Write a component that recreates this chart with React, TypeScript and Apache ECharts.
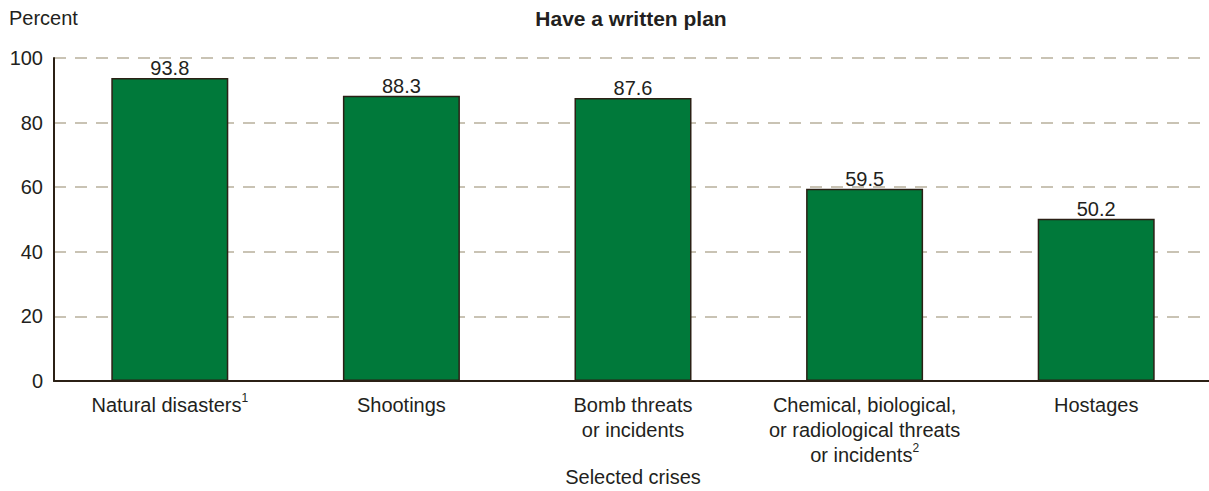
import React, { useEffect, useRef } from "react";
import * as echarts from "echarts";

const categories = [
  "Natural disasters{sup|1}",
  "Shootings",
  "Bomb threats\nor incidents",
  "Chemical, biological,\nor radiological threats\nor incidents{sup|2}",
  "Hostages",
];
const values = [93.8, 88.3, 87.6, 59.5, 50.2];
const yTicks = { min: 0, max: 100, interval: 20 };

export default function App() {
  const ref = useRef<HTMLDivElement>(null);
  useEffect(() => {
    const chart = echarts.init(ref.current!, undefined, { renderer: "svg" });
    const font = "Liberation Sans, Arial, sans-serif";
    const ink = "#231f20";
    chart.setOption({
      animation: false,
      textStyle: { fontFamily: font },
      title: [
        {
          text: "Have a written plan",
          left: 631,
          top: 8,
          padding: 0,
          textAlign: "center",
          textStyle: { fontSize: 21, fontWeight: "bold", color: ink, fontFamily: font },
        },
        {
          text: "Percent",
          left: 9,
          top: 8,
          padding: 0,
          textStyle: { fontSize: 20, fontWeight: "normal", color: ink, fontFamily: font },
        },
      ],
      grid: {
        left: 54,
        top: 58,
        width: 1158,
        height: 323,
        containLabel: false,
        outerBoundsMode: "none",
      },
      xAxis: {
        type: "category",
        data: categories,
        name: "Selected crises",
        nameLocation: "middle",
        nameGap: 86,
        nameMoveOverlap: false,
        nameTextStyle: { fontSize: 20, lineHeight: 20, color: ink, fontFamily: font },
        axisLine: { lineStyle: { color: "#2b2015", width: 2 } },
        axisTick: { show: false },
        axisLabel: {
          interval: 0,
          fontSize: 20,
          color: ink,
          lineHeight: 25,
          margin: 11,
          fontFamily: font,
          rich: {
            sup: { fontSize: 12, verticalAlign: "top", lineHeight: 25, padding: [0, 0, 10, 0], color: ink },
          },
        },
      },
      yAxis: {
        type: "value",
        min: yTicks.min,
        max: yTicks.max,
        interval: yTicks.interval,
        axisLine: { show: true, lineStyle: { color: "#2b2015", width: 2 } },
        axisTick: { show: false },
        axisLabel: { fontSize: 20, color: ink, margin: 11, fontFamily: font },
        splitLine: { lineStyle: { color: "#b8b09c", type: [12, 9], width: 1.5 } },
      },
      series: [
        {
          type: "bar",
          data: values,
          barWidth: 117,
          itemStyle: { color: "#00793a", borderColor: "#2b2015", borderWidth: 1.5 },
          label: {
            show: true,
            position: "top",
            distance: 0,
            fontSize: 20,
            color: ink,
            fontFamily: font,
            formatter: (p: any) => p.value.toFixed(1),
          },
        },
      ],
    });
    return () => chart.dispose();
  }, []);
  return (
    <div
      ref={ref}
      style={{ position: "fixed", left: 0, top: 0, width: 1209, height: 491, background: "#fff" }}
    />
  );
}
